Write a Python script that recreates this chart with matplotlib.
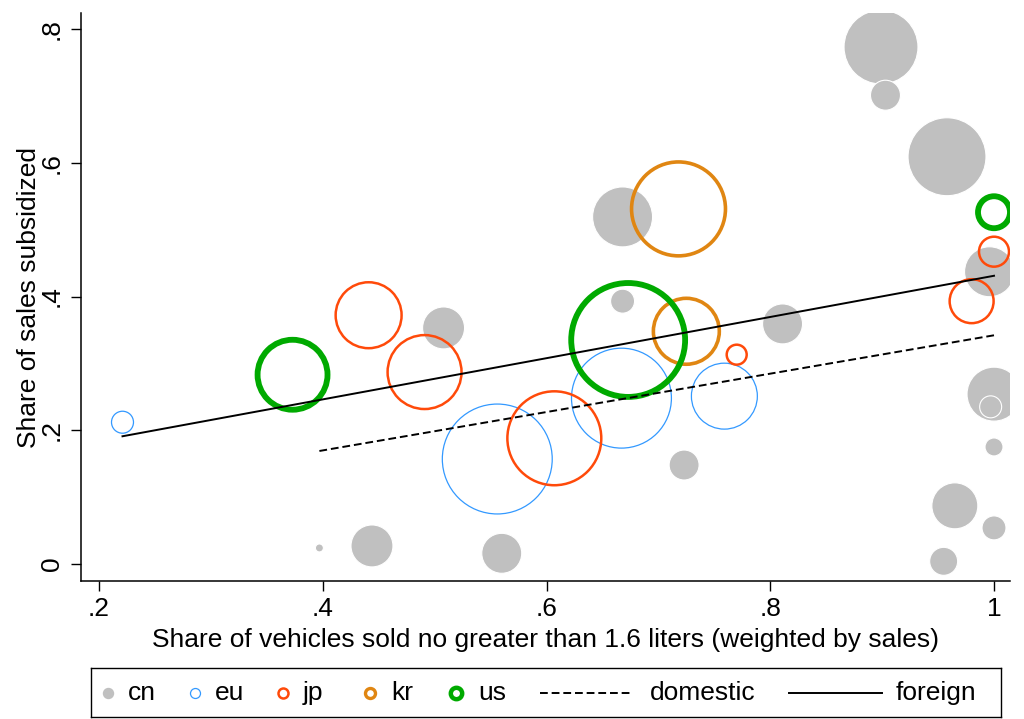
import matplotlib
matplotlib.use("Agg")
import matplotlib.pyplot as plt
import numpy as np

plt.rcParams["font.family"] = ["Liberation Sans", "DejaVu Sans"]
plt.rcParams["font.size"] = 19

# share of small-engine vehicles, share subsidized, sales weight (by origin)
cn_x = [0.899, 0.903, 0.958, 0.996, 0.668, 0.668, 0.508, 0.811, 1.000, 0.997,
        1.000, 0.965, 1.000, 0.955, 0.723, 0.560, 0.444, 0.397]
cn_y = [0.773, 0.701, 0.609, 0.437, 0.393, 0.519, 0.353, 0.359, 0.254, 0.235,
        0.175, 0.087, 0.054, 0.004, 0.148, 0.016, 0.027, 0.024]
cn_w = [1369, 225, 1521, 625, 144, 900, 441, 400, 729, 121,
        81, 529, 144, 196, 225, 400, 441, 16]

eu_x = [0.221, 0.556, 0.667, 0.759]
eu_y = [0.212, 0.157, 0.248, 0.251]
eu_w = [121, 3025, 2500, 1089]

jp_x = [0.441, 0.491, 0.607, 0.770, 0.980, 1.000]
jp_y = [0.372, 0.287, 0.188, 0.313, 0.393, 0.467]
jp_w = [1089, 1369, 2209, 100, 484, 225]

kr_x = [0.718, 0.725]
kr_y = [0.531, 0.348]
kr_w = [2209, 1089]

us_x = [0.373, 0.673, 1.000]
us_y = [0.283, 0.335, 0.526]
us_w = [1225, 3249, 256]

# fitted lines
domestic_x = [0.397, 1.000]
domestic_y = [0.169, 0.342]
foreign_x = [0.221, 1.000]
foreign_y = [0.191, 0.431]

xticks = [0.2, 0.4, 0.6, 0.8, 1.0]
xtick_labels = [".2", ".4", ".6", ".8", "1"]
yticks = [0.0, 0.2, 0.4, 0.6, 0.8]
ytick_labels = ["0", ".2", ".4", ".6", ".8"]

c_cn = "#c0c0c0"
c_eu = "#3399ff"
c_jp = "#ff4a0a"
c_kr = "#e08612"
c_us = "#00aa00"
dash = (0, (4, 2))

W, H = 1024, 719
fig = plt.figure(figsize=(W / 100, H / 100), dpi=100)
ax = fig.add_axes([81 / W, 1 - 581 / H, (1010 - 81) / W, (581 - 13) / H])

k = 2.07  # weight -> marker area (pt^2)
ax.scatter(cn_x, cn_y, s=np.array(cn_w) * k, c=c_cn, edgecolors="white",
           linewidths=0.8, zorder=2)
ax.scatter(eu_x, eu_y, s=np.array(eu_w) * k, facecolors="none",
           edgecolors=c_eu, linewidths=0.9, zorder=3)
ax.scatter(jp_x, jp_y, s=np.array(jp_w) * k, facecolors="none",
           edgecolors=c_jp, linewidths=1.8, zorder=3)
ax.scatter(kr_x, kr_y, s=np.array(kr_w) * k, facecolors="none",
           edgecolors=c_kr, linewidths=2.6, zorder=3)
ax.scatter(us_x, us_y, s=np.array(us_w) * k, facecolors="none",
           edgecolors=c_us, linewidths=4.2, zorder=3)
ax.plot(domestic_x, domestic_y, color="black", lw=1.4, ls=dash, zorder=4)
ax.plot(foreign_x, foreign_y, color="black", lw=1.4, zorder=4)

ax.set_xlim(0.2 - 18 / 1118.75, 1.0 + 16 / 1118.75)
ax.set_ylim(-17 / 668.75, 0.8 + 16 / 668.75)
ax.set_xticks(xticks, xtick_labels)
ax.set_yticks(yticks, ytick_labels)
for lab in ax.get_yticklabels():
    lab.set_rotation(90)
    lab.set_va("center")
ax.tick_params(direction="out", length=7.2, width=1.0, labelsize=19)
ax.tick_params(axis="x", pad=4)
ax.tick_params(axis="y", pad=5)
for side in ["top", "right"]:
    ax.spines[side].set_visible(False)
for side in ["left", "bottom"]:
    ax.spines[side].set_linewidth(1.1)
ax.set_xlabel("Share of vehicles sold no greater than 1.6 liters (weighted by sales)",
              fontsize=19, labelpad=5)
ax.set_ylabel("Share of sales subsidized", fontsize=19, labelpad=-1)

# legend box along the bottom
lax = fig.add_axes([91 / W, 1 - 717 / H, (1001 - 91) / W, (717 - 668) / H])
lax.set_xlim(91, 1001)
lax.set_ylim(717, 668)
lax.set_xticks([])
lax.set_yticks([])
for s in lax.spines.values():
    s.set_linewidth(1.0)
ym = 693
lax.plot(108, ym, "o", ms=7.2, mfc=c_cn, mec=c_cn)
lax.plot(195, ym, "o", ms=7.2, mfc="none", mec=c_eu, mew=0.9)
lax.plot(283, ym, "o", ms=7.2, mfc="none", mec=c_jp, mew=1.8)
lax.plot(370, ym, "o", ms=7.2, mfc="none", mec=c_kr, mew=2.4)
lax.plot(456, ym, "o", ms=8.2, mfc="none", mec=c_us, mew=3.2)
lax.plot([540, 633], [ym, ym], color="black", lw=1.4, ls=dash)
lax.plot([789, 882], [ym, ym], color="black", lw=1.4)
for x, t in [(128, "cn"), (215, "eu"), (303, "jp"), (391, "kr"),
             (478, "us"), (650, "domestic"), (896, "foreign")]:
    lax.text(x, ym, t, va="center", ha="left", fontsize=19)

fig.savefig("out.png", dpi=100)
